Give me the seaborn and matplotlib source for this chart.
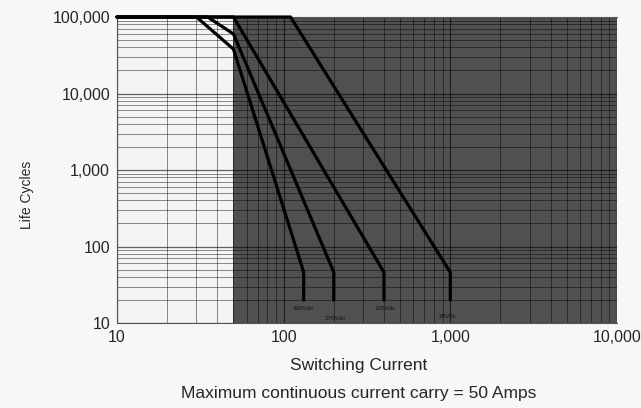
import numpy as np
import pandas as pd
import matplotlib
matplotlib.use("Agg")
import matplotlib.pyplot as plt
import matplotlib.ticker as mticker
import seaborn as sns

# curve data (current in A, life in cycles)
voltages = ["400Vdc", "270Vdc", "120Vdc", "28Vdc"]
current_400 = [10, 30, 50, 132, 132]
cycles_400 = [100000, 100000, 38000, 46, 20]
current_270 = [10, 35, 50, 200, 200]
cycles_270 = [100000, 100000, 60000, 46, 20]
current_120 = [10, 50, 400, 400]
cycles_120 = [100000, 100000, 46, 20]
current_28 = [10, 110, 1000, 1000]
cycles_28 = [100000, 100000, 46, 20]

# where the voltage labels sit under each curve
label_current = [131, 203, 405, 968]
label_cycles = [15.7, 11.3, 15.7, 12.3]

max_continuous = 50
x_ticks = [10, 100, 1000, 10000]
y_ticks = [10, 100, 1000, 10000, 100000]

curves = pd.concat(
    [
        pd.DataFrame({"current": c, "cycles": n, "voltage": v})
        for v, c, n in zip(
            voltages,
            [current_400, current_270, current_120, current_28],
            [cycles_400, cycles_270, cycles_120, cycles_28],
        )
    ],
    ignore_index=True,
)

sns.set_style("white")
plt.rcParams["font.family"] = ["Liberation Sans", "DejaVu Sans"]

fig = plt.figure(figsize=(6.41, 4.08), dpi=100, facecolor="#f7f7f7")
ax = fig.add_axes([0.1825, 0.2083, 0.78, 0.75])
ax.set_facecolor("#f4f4f4")
ax.set_xscale("log")
ax.set_yscale("log")
ax.set_xlim(10, 10000)
ax.set_ylim(10, 100000)

# area beyond the continuous rating
ax.axvspan(max_continuous, 10000, color="#505050", zorder=0, lw=0)

ax.xaxis.set_major_locator(mticker.FixedLocator(x_ticks))
ax.yaxis.set_major_locator(mticker.FixedLocator(y_ticks))
ax.xaxis.set_minor_locator(mticker.LogLocator(base=10, subs=np.arange(2, 10)))
ax.yaxis.set_minor_locator(mticker.LogLocator(base=10, subs=np.arange(2, 10)))
ax.xaxis.set_minor_formatter(mticker.NullFormatter())
ax.yaxis.set_minor_formatter(mticker.NullFormatter())
ax.xaxis.set_major_formatter(mticker.FuncFormatter(lambda v, p: f"{v:,.0f}"))
ax.yaxis.set_major_formatter(mticker.FuncFormatter(lambda v, p: f"{v:,.0f}"))

ax.grid(which="major", color="black", alpha=0.6, lw=0.9, zorder=1)
ax.grid(which="minor", color="black", alpha=0.45, lw=0.7, zorder=1)
ax.set_axisbelow(True)
ax.tick_params(which="both", length=0, labelsize=11.5, pad=5)

for v in voltages:
    sub = curves[curves["voltage"] == v]
    sns.lineplot(
        data=sub,
        x="current",
        y="cycles",
        sort=False,
        estimator=None,
        color="black",
        lw=2.3,
        ax=ax,
        zorder=5,
        clip_on=False,
        solid_joinstyle="round",
    )

for v, xc, yc in zip(voltages, label_current, label_cycles):
    ax.text(xc, yc, v, fontsize=4.5, color="#111111", ha="center", va="center", zorder=6)

for side in ["left", "bottom", "top"]:
    ax.spines[side].set_color("#555555")
    ax.spines[side].set_linewidth(0.8)
ax.spines["right"].set_visible(False)

ax.set_xlabel("")
ax.set_ylabel("Life Cycles", fontsize=10)
ax.yaxis.set_label_coords(-0.165, 0.42)
fig.text(0.56, 0.105, "Switching Current", fontsize=12.5, ha="center", va="center")
fig.text(0.56, 0.036, "Maximum continuous current carry = 50 Amps", fontsize=12.5,
         ha="center", va="center")

fig.savefig("out.png", dpi=100, facecolor=fig.get_facecolor())
